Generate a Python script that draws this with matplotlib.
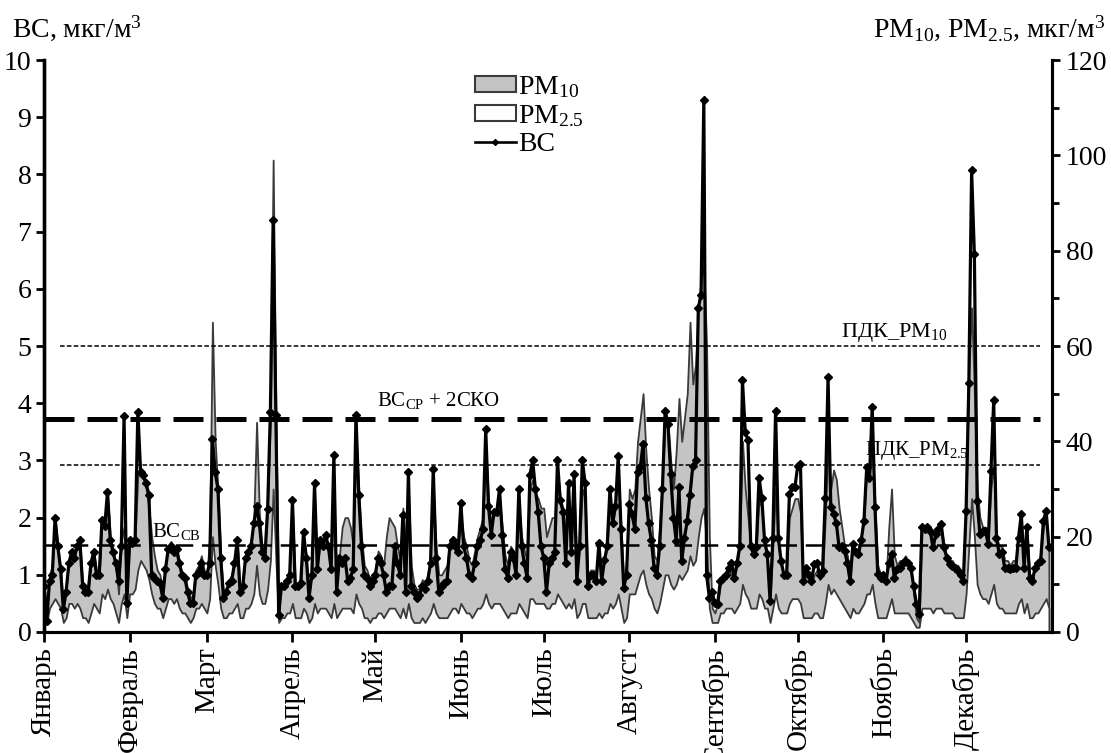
import numpy as np
import matplotlib
matplotlib.use("Agg")
from matplotlib import pyplot as plt
from matplotlib.patches import Patch
from matplotlib.lines import Line2D
from matplotlib.ticker import MultipleLocator

plt.rcParams['font.family'] = ['Liberation Serif', 'DejaVu Serif']
plt.rcParams['mathtext.fontset'] = 'custom'
plt.rcParams['mathtext.rm'] = 'Liberation Serif'
plt.rcParams['mathtext.it'] = 'Liberation Serif:italic'
plt.rcParams['mathtext.bf'] = 'Liberation Serif:bold'

# сажа BC, мкг/м3 (по дням, январь - декабрь)
bc_jan = [0.8, 0.2, 0.9, 1.0, 2.0, 1.5, 1.1, 0.4, 0.7, 1.2, 1.4, 1.3, 1.5, 1.6, 0.8, 0.7,
          0.7, 1.2, 1.4, 1.0, 1.0, 1.95, 1.85, 2.45, 1.6, 1.4, 1.2, 0.9, 1.5, 3.78, 0.5]
bc_feb = [1.6, 1.55, 1.6, 3.85, 2.8, 2.75, 2.6, 2.4, 1.0, 0.95, 0.9, 0.85, 0.6, 1.1,
          1.45, 1.5, 1.4, 1.45, 1.2, 1.0, 0.95, 0.7, 0.5, 0.5, 1.0, 1.05, 1.2, 1.0]
bc_mar = [1.0, 1.2, 3.37, 2.8, 2.5, 1.3, 0.6, 0.7, 0.85, 0.9, 1.2, 1.6, 0.7, 0.8, 1.3, 1.4,
          1.5, 1.9, 2.2, 1.9, 1.4, 1.3, 2.15, 3.85, 7.2, 3.8, 0.3, 0.8, 0.8, 0.9, 1.0]
bc_apr = [2.3, 0.8, 0.8, 0.85, 1.75, 1.3, 0.6, 1.0, 2.6, 1.1, 1.6, 1.5, 1.7, 1.5, 1.1,
          3.1, 0.7, 1.3, 1.2, 1.3, 0.9, 0.95, 1.1, 3.8, 2.4, 1.5, 1.0, 0.95, 0.8, 0.9]
bc_may = [1.0, 1.3, 1.2, 1.0, 0.7, 0.8, 0.8, 1.5, 1.2, 1.0, 2.05, 0.7, 2.8, 0.8, 0.7, 0.6,
          0.65, 0.8, 0.75, 0.9, 1.2, 2.85, 1.3, 0.7, 0.8, 0.85, 0.9, 1.5, 1.6, 1.5, 1.4]
bc_jun = [2.25, 1.5, 1.3, 1.0, 0.95, 1.2, 1.5, 1.6, 1.8, 3.55, 2.2, 1.7, 2.1, 2.1, 2.5,
          1.7, 1.1, 0.95, 1.4, 1.3, 1.0, 2.5, 1.5, 1.2, 0.95, 2.75, 3.0, 2.5, 2.1, 1.5]
bc_jul = [1.3, 0.7, 1.2, 1.3, 1.4, 3.0, 2.3, 2.1, 1.2, 2.6, 1.4, 2.76, 0.9, 1.5, 3.0, 2.6,
          0.8, 1.0, 1.0, 0.9, 1.55, 0.9, 1.25, 1.5, 2.5, 1.9, 2.2, 3.08, 1.8, 0.77, 1.0]
bc_aug = [2.24, 2.06, 1.8, 2.8, 2.88, 3.29, 2.35, 1.9, 1.6, 1.12, 1.0, 1.5, 2.5, 3.87, 3.64,
          2.76, 2.0, 1.59, 2.53, 1.24, 1.65, 1.94, 2.4, 2.9, 3.0, 5.66, 5.9, 9.3, 1.0, 0.6, 0.7]
bc_sep = [0.5, 0.49, 0.9, 0.95, 1.0, 1.12, 1.2, 0.95, 1.2, 1.5, 4.4, 3.5, 3.35, 1.5, 1.36,
          1.48, 2.7, 2.35, 1.6, 1.36, 0.54, 1.65, 3.87, 1.65, 1.24, 1.0, 1.0, 2.41, 2.53, 2.53]
bc_oct = [2.9, 2.94, 0.89, 1.12, 1.0, 0.89, 1.18, 1.2, 1.0, 1.07, 2.35, 4.45, 2.18, 2.06, 1.9,
          1.48, 1.5, 1.42, 1.2, 0.89, 1.54, 1.4, 1.36, 1.6, 1.94, 2.88, 2.7, 3.93, 2.18, 1.01, 0.95]
bc_nov = [1.0, 0.89, 1.2, 1.36, 0.95, 1.1, 1.12, 1.2, 1.24, 1.2, 1.12, 0.8, 0.49, 0.31, 1.83,
          1.8, 1.83, 1.77, 1.48, 1.71, 1.8, 1.88, 1.48, 1.3, 1.18, 1.15, 1.12, 1.07, 1.0, 0.89]
bc_dec = [2.12, 4.36, 8.07, 6.6, 2.29, 1.71, 1.77, 1.77, 1.54, 2.82, 4.05, 1.65, 1.36, 1.4, 1.12,
          1.12, 1.1, 1.12, 1.12, 1.65, 2.06, 1.12, 1.83, 0.95, 0.9, 1.12, 1.2, 1.24, 1.94, 2.12, 1.48]

# PM10, мкг/м3
pm10_jan = [10, 4, 12, 14, 24, 18, 13, 5, 9, 15, 17, 16, 18, 19, 10, 9, 8, 14, 17, 13, 12,
            23, 22, 29, 20, 17, 14, 8, 19, 22, 8]
pm10_feb = [18, 19, 20, 33, 34, 32, 30, 26, 20, 16, 13, 12, 8, 14, 18, 19, 17, 18, 15, 12,
            12, 9, 7, 8, 13, 14, 16, 13]
pm10_mar = [12, 20, 65, 40, 30, 16, 8, 9, 11, 12, 15, 19, 9, 10, 16, 17, 19, 24, 44, 25,
            18, 17, 27, 45, 99, 45, 6, 10, 10, 11, 13]
pm10_apr = [26, 10, 10, 11, 20, 16, 8, 12, 28, 14, 19, 18, 20, 18, 14, 30, 10, 16, 22, 24,
            24, 22, 18, 42, 30, 20, 14, 13, 11, 12]
pm10_may = [13, 17, 16, 14, 20, 24, 23, 22, 18, 15, 26, 18, 30, 14, 10, 9, 9, 11, 10, 12,
            16, 30, 18, 12, 12, 13, 14, 19, 20, 19, 18]
pm10_jun = [24, 20, 18, 15, 14, 17, 20, 22, 24, 38, 28, 22, 25, 26, 28, 22, 16, 14, 18, 17,
            15, 27, 20, 17, 15, 30, 32, 29, 28, 26]
pm10_jul = [26, 20, 22, 24, 24, 34, 28, 26, 20, 28, 22, 30, 14, 18, 30, 28, 12, 13, 13, 12,
            16, 12, 15, 18, 28, 24, 27, 34, 22, 10, 14]
pm10_aug = [30, 28, 30, 40, 45, 50, 38, 30, 24, 16, 15, 22, 32, 45, 44, 36, 30, 38, 49, 40,
            45, 50, 65, 52, 56, 68, 74, 77, 60, 20, 5]
pm10_sep = [4, 6, 10, 11, 12, 13, 12, 11, 14, 18, 40, 30, 24, 18, 17, 18, 28, 26, 18, 16,
            7, 18, 30, 18, 14, 12, 13, 24, 26, 28]
pm10_oct = [28, 25, 10, 12, 11, 10, 12, 13, 11, 12, 24, 40, 30, 34, 32, 26, 22, 18, 16, 12,
            18, 16, 17, 20, 24, 34, 32, 40, 26, 14, 12]
pm10_nov = [12, 11, 22, 30, 16, 14, 15, 15, 16, 15, 14, 8, 3, 2, 22, 22, 22, 21, 18, 20,
            22, 22, 18, 16, 15, 15, 14, 14, 13, 12]
pm10_dec = [28, 55, 68, 50, 30, 24, 22, 22, 20, 30, 35, 20, 18, 18, 15, 15, 14, 15, 15, 20,
            24, 15, 22, 12, 11, 14, 15, 16, 22, 24, 18]

# PM2.5, мкг/м3
pm25_jan = [4, 2, 5, 6, 7, 6, 5, 2, 3, 6, 6, 5, 6, 5, 3, 3, 2, 4, 6, 5, 4, 8, 7, 9, 7, 6,
            4, 2, 6, 8, 3]
pm25_feb = [8, 8, 9, 13, 15, 14, 13, 11, 8, 6, 5, 5, 3, 5, 7, 7, 6, 7, 5, 4, 4, 3, 2, 3,
            5, 5, 6, 5]
pm25_mar = [4, 7, 20, 14, 10, 5, 3, 3, 4, 4, 5, 6, 3, 3, 5, 5, 6, 8, 14, 8, 6, 6, 9, 15,
            30, 15, 2, 3, 3, 4, 4]
pm25_apr = [6, 3, 3, 3, 5, 4, 2, 3, 6, 4, 5, 5, 5, 4, 3, 6, 3, 4, 5, 5, 5, 5, 4, 8, 6, 5,
            3, 3, 2, 3]
pm25_may = [3, 4, 4, 3, 4, 5, 5, 5, 4, 3, 5, 3, 6, 3, 2, 2, 2, 3, 2, 3, 4, 6, 4, 3, 3, 3,
            3, 4, 5, 5, 4]
pm25_jun = [6, 5, 4, 4, 3, 4, 5, 5, 6, 8, 6, 5, 6, 6, 6, 5, 4, 3, 4, 4, 4, 6, 5, 4, 3, 7,
            7, 6, 6, 6]
pm25_jul = [6, 5, 5, 6, 6, 8, 7, 6, 5, 6, 5, 7, 3, 4, 6, 6, 3, 3, 3, 3, 4, 3, 4, 4, 6, 5,
            6, 8, 5, 2, 3]
pm25_aug = [8, 8, 8, 10, 12, 13, 10, 8, 7, 5, 4, 6, 9, 12, 12, 10, 9, 10, 12, 11, 12, 13,
            16, 14, 15, 20, 24, 26, 18, 5, 2]
pm25_sep = [2, 2, 4, 4, 5, 5, 5, 4, 5, 6, 10, 8, 7, 5, 5, 5, 8, 7, 5, 5, 2, 5, 8, 5, 4, 4,
            4, 6, 7, 7]
pm25_oct = [7, 6, 3, 3, 3, 3, 4, 4, 3, 3, 6, 10, 8, 9, 8, 7, 6, 5, 4, 3, 5, 4, 4, 5, 6, 8,
            8, 10, 6, 3, 3]
pm25_nov = [3, 3, 5, 7, 4, 4, 4, 4, 4, 4, 3, 2, 1, 1, 5, 5, 5, 5, 4, 5, 5, 5, 4, 4, 4, 4,
            3, 3, 3, 3]
pm25_dec = [8, 18, 28, 20, 10, 8, 7, 7, 6, 8, 10, 6, 5, 5, 4, 4, 4, 4, 4, 6, 7, 4, 6, 3, 3,
            4, 4, 5, 6, 7, 5]

months = ['Январь', 'Февраль', 'Март', 'Апрель', 'Май', 'Июнь', 'Июль', 'Август',
          'Сентябрь', 'Октябрь', 'Ноябрь', 'Декабрь']
month_days = [31, 28, 31, 30, 31, 30, 31, 31, 30, 31, 30, 31]

bc_sr2sko = 3.73   # BC_СР + 2СКО
bc_sv = 1.52       # BC_СВ
pdk_pm10 = 60
pdk_pm25 = 35

bc = np.array(bc_jan + bc_feb + bc_mar + bc_apr + bc_may + bc_jun + bc_jul + bc_aug +
              bc_sep + bc_oct + bc_nov + bc_dec)
pm10 = np.array(pm10_jan + pm10_feb + pm10_mar + pm10_apr + pm10_may + pm10_jun + pm10_jul +
                pm10_aug + pm10_sep + pm10_oct + pm10_nov + pm10_dec, dtype=float)
pm25 = np.array(pm25_jan + pm25_feb + pm25_mar + pm25_apr + pm25_may + pm25_jun + pm25_jul +
                pm25_aug + pm25_sep + pm25_oct + pm25_nov + pm25_dec, dtype=float)
n = min(len(pm10), len(pm25))
pm10 = pm10[:n]
pm25 = pm25[:n]
x_bc = np.arange(len(bc))
x_pm = np.arange(n)
month_start = np.concatenate([[0], np.cumsum(month_days)[:-1]])

fig = plt.figure(figsize=(11.11, 7.53), dpi=100)
ax = fig.add_axes([0.0396, 0.1607, 0.907, 0.7596])
ax2 = ax.twinx()

# PM на правой оси
ax2.fill_between(x_pm, 0, pm10, facecolor='#c4c4c4', edgecolor='#3a3a3a', linewidth=1.3)
ax2.fill_between(x_pm, 0, pm25, facecolor='white', edgecolor='#3a3a3a', linewidth=1.3)
ax2.axhline(pdk_pm10, xmin=0.016, xmax=0.988, color='black', linestyle=(0, (3, 1.5)), linewidth=1.1)
ax2.axhline(pdk_pm25, xmin=0.016, xmax=0.988, color='black', linestyle=(0, (3, 1.5)), linewidth=1.1)

# BC поверх
ax.set_zorder(ax2.get_zorder() + 1)
ax.patch.set_visible(False)
ax.axhline(bc_sr2sko, xmin=0, xmax=0.988, color='black', linestyle=(0, (6, 2.6)), linewidth=3.6)
ax.axhline(bc_sv, xmin=0, xmax=0.988, color='black', linestyle=(0, (7, 3.5)), linewidth=1.8)
ax.plot(x_bc, bc, color='black', linewidth=2.3, marker='D', markersize=3.8)

ax.set_xlim(0, 365)
ax.set_ylim(0, 10)
ax2.set_ylim(0, 120)

ax.set_xticks(month_start)
ax.set_xticklabels(months, rotation=90, fontsize=21)
ax.set_yticks(range(0, 11))
ax.tick_params(axis='y', labelsize=20, length=6, width=2, direction='out', pad=3)
ax.tick_params(axis='x', length=7, width=2, direction='out', pad=4)
ax2.yaxis.set_major_locator(MultipleLocator(20))
ax2.yaxis.set_minor_locator(MultipleLocator(10))
ax2.tick_params(axis='y', which='major', labelsize=20, length=6, width=2, direction='out', pad=4)
ax2.tick_params(axis='y', which='minor', length=5, width=2, direction='out')

for a in (ax, ax2):
    a.spines['top'].set_visible(False)
    a.spines['left'].set_linewidth(2.4)
    a.spines['right'].set_linewidth(2.2)
    a.spines['bottom'].set_linewidth(2.2)

# подписи линий
ax2.text(308, 60.4, 'ПДК_PM$_{10}$', fontsize=16, ha='center', va='bottom')
ax2.text(316, 35.6, 'ПДК_PM$_{2.5}$', fontsize=15, ha='center', va='bottom')
ax.text(143, 3.86, 'BC$_{\\mathrm{СР}}$ + 2СКО', fontsize=15, ha='center', va='bottom')
ax.text(39, 1.57, 'BC$_{\\mathrm{СВ}}$', fontsize=15, ha='left', va='bottom')

fig.text(0.011, 0.952, 'BC, мкг/м$^3$', fontsize=20, ha='left', va='baseline')
fig.text(0.995, 0.952, 'PM$_{10}$, PM$_{2.5}$, мкг/м$^3$', fontsize=20, ha='right', va='baseline')

handles = [Patch(facecolor='#c4c4c4', edgecolor='#3a3a3a', linewidth=1.5),
           Patch(facecolor='white', edgecolor='#3a3a3a', linewidth=1.5),
           Line2D([], [], color='black', linewidth=1.9, marker='D', markersize=3)]
ax.legend(handles, ['PM$_{10}$', 'PM$_{2.5}$', 'BC'], loc='upper left',
          bbox_to_anchor=(0.428, 0.975), frameon=False, fontsize=20,
          handlelength=1.45, handleheight=0.5, handletextpad=0.1, labelspacing=0.1,
          borderpad=0, borderaxespad=0)

fig.savefig('out.png', dpi=100)
